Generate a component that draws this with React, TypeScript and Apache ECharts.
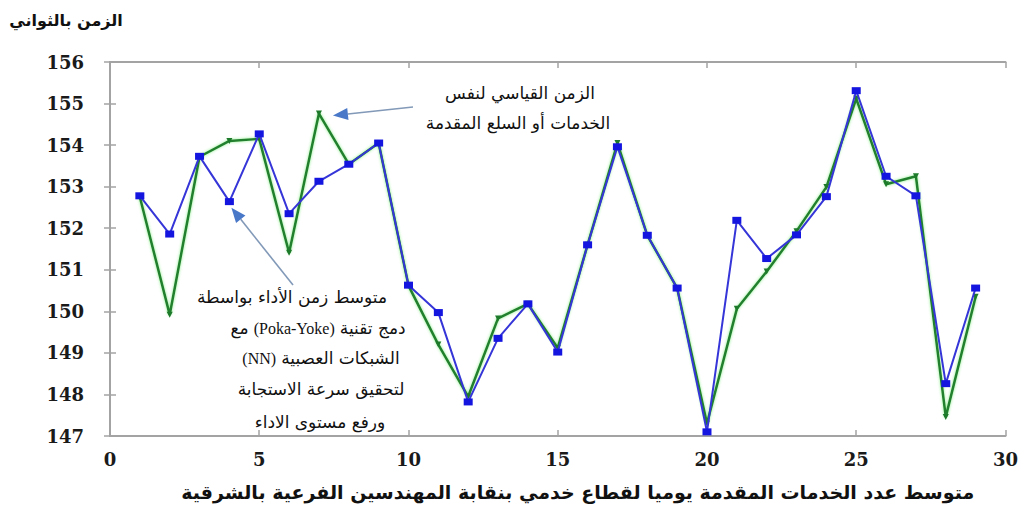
import React, { useEffect, useRef } from "react";
import * as echarts from "echarts";

// Day index of each observation (x axis)
const days = [
  1, 2, 3, 4, 5, 6, 7, 8, 9, 10, 11, 12, 13, 14, 15, 16, 17, 18, 19, 20, 21,
  22, 23, 24, 25, 26, 27, 28, 29,
];

// Standard time for the same services / goods (green)
const standardTime = [
  152.75, 149.92, 153.72, 154.1, 154.15, 151.41, 154.76, 153.54, 154.05,
  150.62, 149.2, 147.95, 149.83, 150.18, 149.12, 151.6, 154.05, 151.83, 150.56,
  147.3, 150.06, 150.96, 151.93, 152.99, 155.12, 153.06, 153.25, 147.46, 150.35,
];

// Mean performance time with Poka-Yoke + neural networks (blue)
const nnPokaYokeTime = [
  152.78, 151.86, 153.73, 152.64, 154.27, 152.35, 153.13, 153.54, 154.05,
  150.63, 149.97, 147.82, 149.35, 150.18, 149.02, 151.6, 153.96, 151.83, 150.56,
  147.1, 152.19, 151.27, 151.84, 152.76, 155.31, 153.25, 152.78, 148.26, 150.56,
];

const xRange = [0, 30];
const xStep = 5;
const yRange = [147, 156];
const yStep = 1;

const yTitle = "الزمن بالثواني";
const xTitle =
  "متوسط عدد الخدمات المقدمة يوميا لقطاع خدمي بنقابة المهندسين الفرعية بالشرقية";
const standardNote = ["الزمن القياسي لنفس", "الخدمات أو السلع المقدمة"];
// Each line of the note lists its runs in reading order (right to left)
const nnNote = [
  ["متوسط زمن الأداء بواسطة"],
  ["دمج تقنية", "(Poka-Yoke)", "مع"],
  ["الشبكات العصبية", "(NN)"],
  ["لتحقيق سرعة الاستجابة"],
  ["ورفع مستوى الاداء"],
];

const FRAME = "#a3a3a3";
const TICK_FONT = "DejaVu Serif";
const AR_FONT = "DejaVu Sans";
const LATIN_FONT = "Liberation Serif";

export default function App() {
  const ref = useRef<HTMLDivElement>(null);

  useEffect(() => {
    if (!ref.current) return;
    const chart = echarts.init(ref.current, undefined, { renderer: "svg" });

    const axisLine = { show: true, lineStyle: { color: FRAME, width: 2 } };
    const axisTick = {
      show: true,
      inside: true,
      length: 6,
      lineStyle: { color: FRAME, width: 1.5 },
    };
    const tickLabel = {
      fontFamily: TICK_FONT,
      fontWeight: "bold" as const,
      fontSize: 18,
      color: "#1a1a1a",
    };

    chart.setOption({
      animation: false,
      backgroundColor: "#ffffff",
      grid: { left: 110, right: 9, top: 62, bottom: 65, containLabel: false },
      xAxis: [
        {
          type: "value",
          position: "bottom",
          min: xRange[0],
          max: xRange[1],
          interval: xStep,
          axisLine,
          axisTick,
          splitLine: { show: false },
          axisLabel: { ...tickLabel, margin: 14 },
          name: xTitle,
          nameLocation: "middle",
          nameGap: 46,
          nameTextStyle: {
            fontFamily: AR_FONT,
            fontWeight: "bold",
            fontSize: 19,
            color: "#111",
            padding: [0, 0, 0, 40],
          },
        },
        {
          type: "value",
          position: "top",
          min: xRange[0],
          max: xRange[1],
          interval: xStep,
          axisLine,
          axisTick,
          splitLine: { show: false },
          axisLabel: { show: false },
        },
      ],
      yAxis: [
        {
          type: "value",
          position: "left",
          min: yRange[0],
          max: yRange[1],
          interval: yStep,
          axisLine,
          axisTick,
          splitLine: { show: false },
          axisLabel: { ...tickLabel, margin: 26 },
        },
        {
          type: "value",
          position: "right",
          min: yRange[0],
          max: yRange[1],
          interval: yStep,
          axisLine,
          axisTick,
          splitLine: { show: false },
          axisLabel: { show: false },
        },
      ],
      series: [
        {
          name: "standard",
          type: "line",
          xAxisIndex: 0,
          yAxisIndex: 0,
          data: days.map((d, i) => [d, standardTime[i]]),
          symbol: "triangle",
          symbolRotate: 180,
          symbolSize: 6,
          itemStyle: { color: "#1d7a2a" },
          lineStyle: {
            color: "#217f2e",
            width: 2.5,
            shadowColor: "rgba(90,230,90,0.7)",
            shadowBlur: 3,
          },
          z: 2,
        },
        {
          name: "nn",
          type: "line",
          xAxisIndex: 0,
          yAxisIndex: 0,
          data: days.map((d, i) => [d, nnPokaYokeTime[i]]),
          symbol: "rect",
          symbolSize: [9, 7],
          itemStyle: { color: "#1515e0" },
          lineStyle: { color: "#3535d8", width: 2 },
          z: 3,
        },
      ],
    });

    // Annotation arrows anchored to the points they describe
    const tipStd = chart.convertToPixel({ xAxisIndex: 0, yAxisIndex: 0 }, [
      days[6],
      standardTime[6],
    ]) as number[];
    const tipNN = chart.convertToPixel({ xAxisIndex: 0, yAxisIndex: 0 }, [
      days[3],
      nnPokaYokeTime[3],
    ]) as number[];

    const arrow = (
      from: number[],
      to: number[],
      headLen: number,
      headHalf: number
    ) => {
      const dx = to[0] - from[0];
      const dy = to[1] - from[1];
      const len = Math.hypot(dx, dy);
      const ux = dx / len;
      const uy = dy / len;
      const bx = to[0] - ux * headLen;
      const by = to[1] - uy * headLen;
      return [
        {
          type: "line",
          shape: { x1: from[0], y1: from[1], x2: bx, y2: by },
          style: { stroke: "#8299b8", lineWidth: 1.6 },
          z: 10,
        },
        {
          type: "polygon",
          shape: {
            points: [
              [to[0], to[1]],
              [bx - uy * headHalf, by + ux * headHalf],
              [bx + uy * headHalf, by - ux * headHalf],
            ],
          },
          style: { fill: "#4a78c8" },
          z: 10,
        },
      ];
    };

    const isLatin = (s: string) => /[A-Za-z]/.test(s);
    const ctx = document.createElement("canvas").getContext("2d")!;
    const fontOf = (run: string, size: number, bold: boolean) =>
      `${bold ? "bold " : ""}${isLatin(run) ? size - 1 : size}px ${
        isLatin(run) ? LATIN_FONT : AR_FONT
      }`;

    // A right-to-left line: the first run sits at the right end,
    // the whole line centred on x
    const lineEls = (
      runs: string[],
      x: number,
      y: number,
      size: number,
      bold = false
    ) => {
      const gap = size * 0.3;
      const widths = runs.map((r) => {
        ctx.font = fontOf(r, size, bold);
        return ctx.measureText(r).width;
      });
      const total =
        widths.reduce((a, b) => a + b, 0) + gap * (runs.length - 1);
      let rx = x + total / 2;
      return runs.map((r, i) => {
        const el = {
          type: "text",
          x: rx,
          y,
          z: 11,
          style: {
            text: r,
            fontFamily: isLatin(r) ? LATIN_FONT : AR_FONT,
            fontSize: isLatin(r) ? size - 1 : size,
            fontWeight: bold ? "bold" : "normal",
            fill: "#111",
            align: "right",
            verticalAlign: "middle",
          },
        };
        rx -= widths[i] + gap;
        return el;
      });
    };

    const nnY = [297, 328, 358, 389, 422];
    const nnX = [292, 318, 321, 321, 320];

    chart.setOption({
      graphic: [
        ...lineEls([yTitle], 66, 20, 16, true),
        ...lineEls([standardNote[0]], 520, 93, 17),
        ...lineEls([standardNote[1]], 518, 123, 17),
        ...nnNote.flatMap((runs, i) => lineEls(runs, nnX[i], nnY[i], 17)),
        ...arrow([413, 107], [tipStd[0] + 14, tipStd[1] + 2], 15, 6),
        ...arrow([293, 285], [tipNN[0] + 2, tipNN[1] + 6], 15, 6),
      ],
    });

    return () => chart.dispose();
  }, []);

  return (
    <div
      ref={ref}
      style={{ position: "fixed", left: 0, top: 0, width: 1021, height: 506 }}
    />
  );
}
